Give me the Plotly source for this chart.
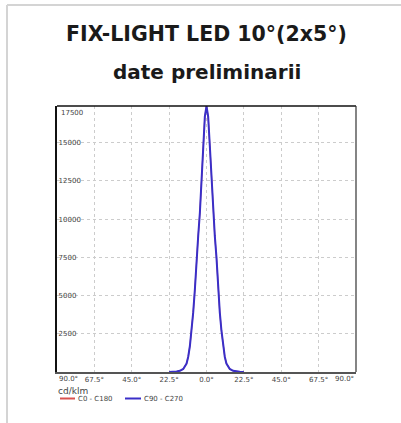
import plotly.graph_objects as go

# ---- data ----
angles = [-22.5, -20, -18, -16, -14, -12, -11, -10, -9, -8, -7, -6, -5, -4, -3, -2, -1, 0,
          1, 2, 3, 4, 5, 6, 7, 8, 9, 10, 11, 12, 14, 16, 18, 20, 22.5]
c0_c180 = [0, 10, 30, 80, 200, 550, 1000, 1700, 2700, 3900, 5400, 7500, 8900, 10400, 12500, 14800, 16700, 17400,
           16700, 14800, 12500, 10400, 8900, 7500, 5400, 3900, 2700, 1700, 1000, 550, 200, 80, 30, 10, 0]
c90_c270 = list(c0_c180)

x_tickvals = [-90, -67.5, -45, -22.5, 0, 22.5, 45, 67.5, 90]
x_ticktext = ["90.0°", "67.5°", "45.0°", "22.5°", "0.0°", "22.5°", "45.0°", "67.5°", "90.0°"]
y_tickvals = [2500, 5000, 7500, 10000, 12500, 15000]
y_ticktext = ["2500", "5000", "7500", "10000", "12500", "15000"]
y_top_label = "17500"

title_text = "FIX-LIGHT LED 10°(2x5°)"
subtitle_text = "date preliminarii"
unit_text = "cd/klm"
series_names = ["C0 - C180", "C90 - C270"]
series_colors = ["#d9534f", "#3a2fc8"]

fig = go.Figure()
fig.add_trace(go.Scatter(x=angles, y=c0_c180, mode="lines", name=series_names[0],
                         line=dict(color=series_colors[0], width=1.2)))
fig.add_trace(go.Scatter(x=angles, y=c90_c270, mode="lines", name=series_names[1],
                         line=dict(color=series_colors[1], width=2)))

L, R, T, B = 57, 45, 106, 51
W, H = 401, 423
pw, ph = W - L - R, H - T - B

def px_x(px):
    return (px - L) / pw

def px_y(py):
    return (H - B - py) / ph

tick_font = dict(family="DejaVu Sans", size=7, color="#444")

annotations = [
    dict(text=f"<b>{title_text}</b>", x=px_x(206.5), y=px_y(34), xref="paper", yref="paper",
         showarrow=False, xanchor="center", yanchor="middle",
         font=dict(family="DejaVu Sans", size=20.5, color="#1a1a1a")),
    dict(text=f"<b>{subtitle_text}</b>", x=px_x(207), y=px_y(72), xref="paper", yref="paper",
         showarrow=False, xanchor="center", yanchor="middle",
         font=dict(family="DejaVu Sans", size=20, color="#1a1a1a")),
    dict(text=y_top_label, x=px_x(59), y=px_y(113), xref="paper", yref="paper",
         showarrow=False, xanchor="left", yanchor="middle", font=tick_font),
    # edge x labels kept inside the frame as in the reference
    dict(text=x_ticktext[0], x=0, y=px_y(379), xref="paper", yref="paper",
         showarrow=False, xanchor="left", yanchor="middle", font=tick_font),
    dict(text=x_ticktext[-1], x=1, y=px_y(379), xref="paper", yref="paper",
         showarrow=False, xanchor="right", yanchor="middle", font=tick_font),
    # legend
    dict(text=unit_text, x=px_x(56), y=px_y(390.5), xref="paper", yref="paper",
         showarrow=False, xanchor="left", yanchor="middle",
         font=dict(family="DejaVu Sans", size=9, color="#444")),
    dict(text=series_names[0], x=px_x(76), y=px_y(398.5), xref="paper", yref="paper",
         showarrow=False, xanchor="left", yanchor="middle", font=tick_font),
    dict(text=series_names[1], x=px_x(142), y=px_y(398.5), xref="paper", yref="paper",
         showarrow=False, xanchor="left", yanchor="middle", font=tick_font),
]

fig.update_layout(
    width=W, height=H,
    margin=dict(l=L, r=R, t=T, b=B),
    paper_bgcolor="white", plot_bgcolor="white",
    showlegend=False,
    xaxis=dict(range=[-90, 90], tickvals=x_tickvals[1:-1], ticktext=x_ticktext[1:-1],
               tickfont=tick_font, ticks="", showgrid=True, gridcolor="#cccccc",
               griddash="3px,3px", gridwidth=1, zeroline=False,
               showline=True, linecolor="#555", linewidth=2, mirror=False),
    yaxis=dict(range=[0, 17400], tickvals=y_tickvals, ticktext=y_ticktext, tickfont=tick_font,
               ticklabelposition="inside", ticks="", showgrid=True, gridcolor="#cccccc",
               griddash="3px,3px", gridwidth=1, zeroline=False,
               showline=True, linecolor="#111", linewidth=2, mirror=False),
    annotations=annotations,
    shapes=[
        # card border
        dict(type="line", xref="paper", yref="paper", x0=px_x(7), x1=px_x(402),
             y0=px_y(5), y1=px_y(5), line=dict(color="#d4d4d4", width=2)),
        dict(type="line", xref="paper", yref="paper", x0=px_x(7), x1=px_x(7),
             y0=px_y(5), y1=px_y(430), line=dict(color="#d4d4d4", width=2)),
        # top and right frame
        dict(type="line", xref="paper", yref="paper", x0=0, x1=1, y0=1, y1=1,
             line=dict(color="#111", width=1.5)),
        dict(type="line", xref="paper", yref="paper", x0=1, x1=1, y0=0, y1=1,
             line=dict(color="#333", width=1.2)),
        # legend line samples
        dict(type="line", xref="paper", yref="paper", x0=px_x(60), x1=px_x(75),
             y0=px_y(398.5), y1=px_y(398.5), line=dict(color=series_colors[0], width=2)),
        dict(type="line", xref="paper", yref="paper", x0=px_x(125), x1=px_x(141),
             y0=px_y(398.5), y1=px_y(398.5), line=dict(color=series_colors[1], width=2)),
    ],
)

fig.write_html("out.html", config={"displayModeBar": False},
               post_script="document.body.style.margin='0';")
